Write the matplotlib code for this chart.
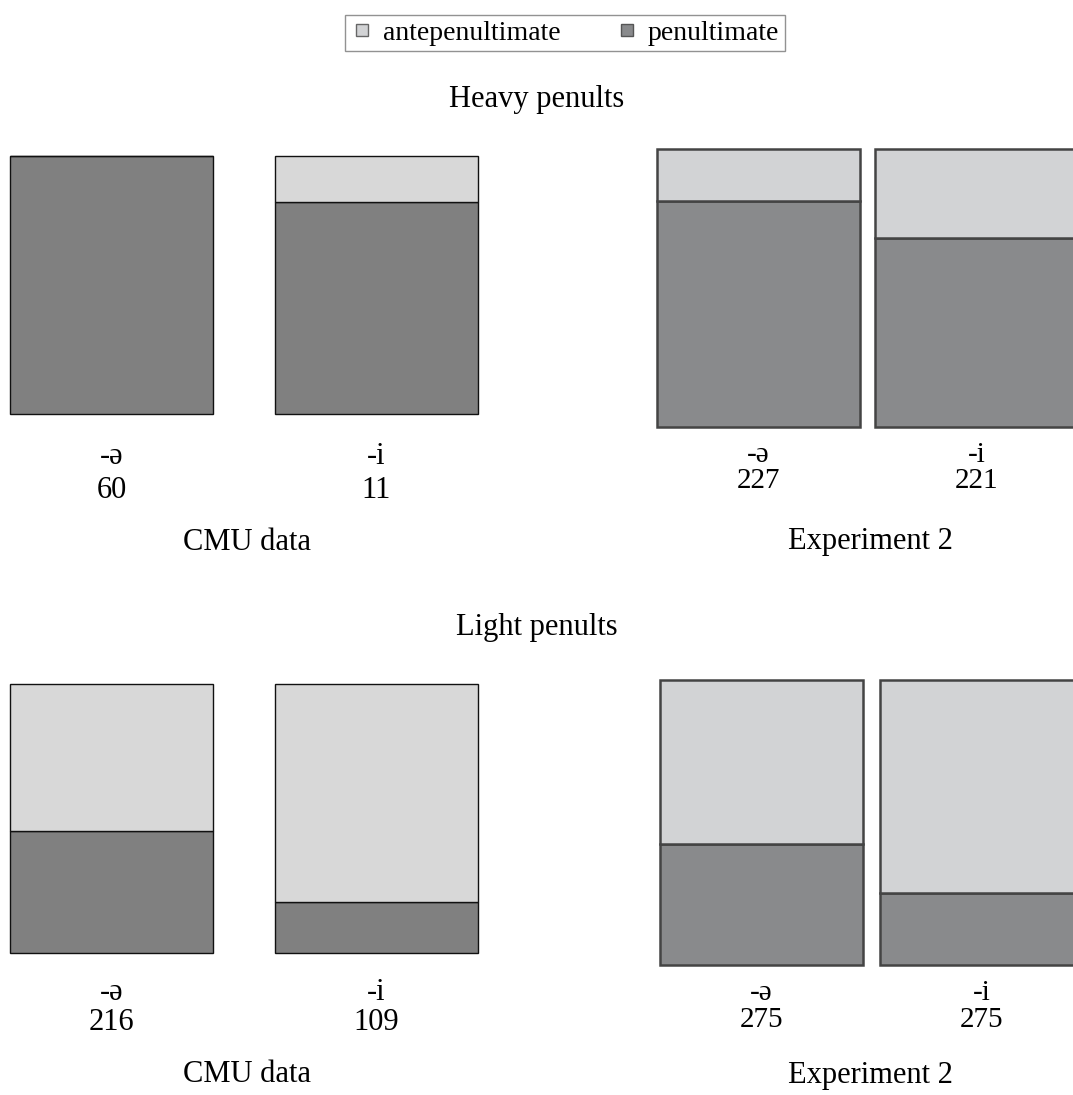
import numpy as np
import matplotlib.pyplot as plt
from matplotlib.lines import Line2D

plt.rcParams['font.family'] = ['Liberation Serif', 'DejaVu Serif']

# shares (antepenultimate on top, penultimate below)
suffixes = ['-ə', '-i']
heavy_cmu_pen = [1.00, 0.82]
heavy_cmu_ante = [0.00, 0.18]
heavy_cmu_n = ['60', '11']
heavy_exp_pen = [0.814, 0.68]
heavy_exp_ante = [0.186, 0.32]
heavy_exp_n = ['227', '221']
light_cmu_pen = [0.454, 0.19]
light_cmu_ante = [0.546, 0.81]
light_cmu_n = ['216', '109']
light_exp_pen = [0.425, 0.253]
light_exp_ante = [0.575, 0.747]
light_exp_n = ['275', '275']

W, H = 1073, 1095
fig = plt.figure(figsize=(W / 100, H / 100), dpi=100)

def px_axes(left, top, right, bottom):
    return fig.add_axes([left / W, 1 - bottom / H, (right - left) / W, (bottom - top) / H])

def panel(box, gap, pen, ante, ns, dark, light, edge, lw, lab_y, num_y, fs):
    left, top, right, bottom = box
    ax = px_axes(left, top, right, bottom)
    bw = (right - left - gap) / 2.0
    wd = bw / (bw + gap)  # bar width in data units, centres at 0 and 1
    x = np.arange(len(pen))
    b1 = ax.bar(x, pen, width=wd, color=dark, edgecolor=edge, linewidth=lw)
    b2 = ax.bar(x, ante, bottom=pen, width=wd, color=light, edgecolor=edge, linewidth=lw)
    for p in list(b1) + list(b2):
        p.set_clip_on(False)
    ax.set_xlim(-wd / 2, 1 + wd / 2)
    ax.set_ylim(0, 1)
    ax.axis('off')
    for i in range(len(pen)):
        cx = left + bw / 2 + i * (bw + gap)
        fig.text(cx / W, 1 - lab_y / H, suffixes[i], ha='center', va='center', fontsize=fs)
        fig.text(cx / W, 1 - num_y / H, ns[i], ha='center', va='center', fontsize=fs)

cmu_dark, cmu_light = '#808080', '#d8d8d8'
exp_dark, exp_light = '#898a8c', '#d2d3d5'

panel((10, 156, 478, 414), 62, heavy_cmu_pen, heavy_cmu_ante, heavy_cmu_n,
      cmu_dark, cmu_light, '#111111', 1.0, 457, 490, 22)
panel((657, 149, 1078, 427), 15, heavy_exp_pen, heavy_exp_ante, heavy_exp_n,
      exp_dark, exp_light, '#444444', 1.8, 455, 481, 21)
panel((10, 684, 478, 953), 62, light_cmu_pen, light_cmu_ante, light_cmu_n,
      cmu_dark, cmu_light, '#111111', 1.0, 993, 1023, 22)
panel((660, 680, 1083, 965), 17, light_exp_pen, light_exp_ante, light_exp_n,
      exp_dark, exp_light, '#444444', 1.8, 993, 1020, 21)

fig.text(537 / W, 1 - 100 / H, 'Heavy penults', ha='center', va='center', fontsize=22)
fig.text(537 / W, 1 - 627 / H, 'Light penults', ha='center', va='center', fontsize=22)
for yy in (542, 1075):
    fig.text(247 / W, 1 - yy / H, 'CMU data', ha='center', va='center', fontsize=22)
    fig.text(870 / W, 1 - yy / H, 'Experiment 2', ha='center', va='center', fontsize=22)

handles = [Line2D([], [], marker='s', linestyle='none', markersize=8.5,
                  markerfacecolor=exp_light, markeredgecolor='#666666'),
           Line2D([], [], marker='s', linestyle='none', markersize=8.5,
                  markerfacecolor=exp_dark, markeredgecolor='#555555')]
leg = fig.legend(handles, ['antepenultimate', 'penultimate'], loc='center',
                 bbox_to_anchor=(565 / W, 1 - 33 / H), ncol=2, fontsize=20,
                 frameon=True, fancybox=False, handletextpad=0.35,
                 columnspacing=2.0, borderpad=0.2, handlelength=0.8)
leg.get_frame().set_edgecolor('#777777')
leg.get_frame().set_linewidth(1.0)

fig.savefig('out.png', dpi=100)
